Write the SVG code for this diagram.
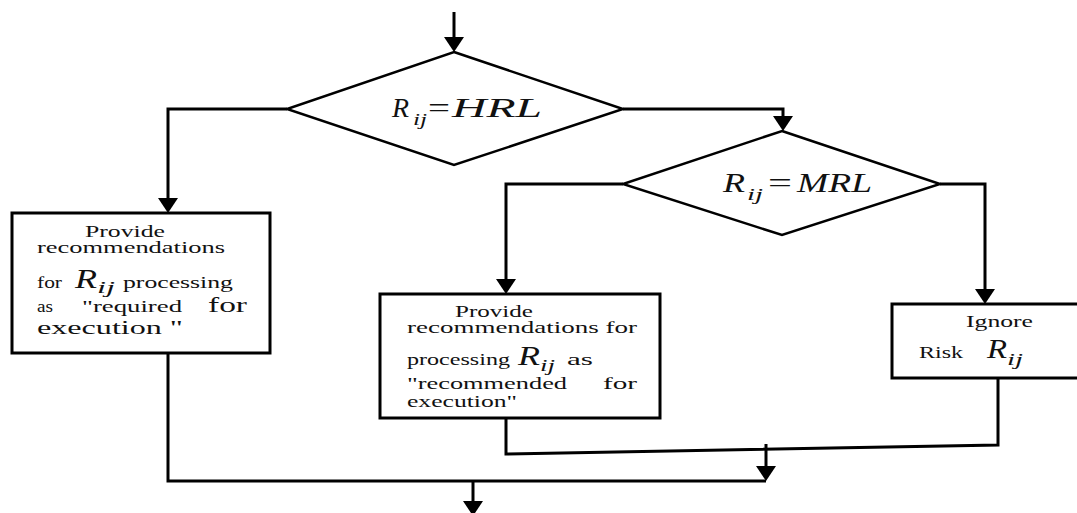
<svg xmlns="http://www.w3.org/2000/svg" width="1077" height="513" viewBox="0 0 1077 513">
<style>
.shape{fill:#ffffff;stroke:#000000;stroke-width:3}
.dia{fill:#ffffff;stroke:#000000;stroke-width:2.5}
.conn{fill:none;stroke:#000000;stroke-width:3}
text{font-family:"Liberation Serif","Times New Roman",serif;fill:#111111}
.t{font-size:16px}
.t17{font-size:17px}
.big{font-size:20px}
.ex{font-size:19px}
.it{font-style:italic;font-size:28px}
.sub{font-style:italic;font-size:16px}
.eq{font-size:27px}
.eqi{font-size:27px;font-style:italic}
</style>
<defs>
<marker id="arr" viewBox="0 0 15 20" refX="7" refY="10" markerWidth="15" markerHeight="20" markerUnits="userSpaceOnUse" orient="auto">
<path d="M0,0 L15,10 L0,20 z" fill="#000000"/>
</marker>
</defs>
<rect width="1077" height="513" fill="#ffffff"/>

<g id="connectors">
<path class="conn" d="M454,12 L454,44" marker-end="url(#arr)"/>
<path class="conn" d="M287,109 L168,109 L168,205" marker-end="url(#arr)"/>
<path class="conn" d="M623,109 L783,109 L783,123" marker-end="url(#arr)"/>
<path class="conn" d="M623,184 L506,184 L506,286" marker-end="url(#arr)"/>
<path class="conn" d="M940,184 L985,184 L985,296" marker-end="url(#arr)"/>
<path class="conn" d="M168,353 L168,481 L766,481"/>
<path class="conn" d="M506,418 L506,454 L998,445 L998,378"/>
<path class="conn" d="M766,444 L766,473" marker-end="url(#arr)"/>
<path class="conn" d="M473,481 L473,508" marker-end="url(#arr)"/>
</g>

<g id="decision-hrl">
<polygon class="dia" points="454,52 623,109 454,165 287,109"/>
<text class="eqi" x="392" y="117" textLength="17" lengthAdjust="spacingAndGlyphs">R</text>
<text class="sub" x="413" y="125" textLength="14" lengthAdjust="spacingAndGlyphs">ij</text>
<text class="eq" x="428" y="117" textLength="22" lengthAdjust="spacingAndGlyphs">=</text>
<text class="eqi" x="452" y="117" textLength="90" lengthAdjust="spacingAndGlyphs">HRL</text>
</g>

<g id="decision-mrl">
<polygon class="dia" points="782,131 940,184 782,235 623,184"/>
<text class="eqi" x="723" y="192" textLength="22" lengthAdjust="spacingAndGlyphs">R</text>
<text class="sub" x="747" y="200" textLength="16" lengthAdjust="spacingAndGlyphs">ij</text>
<text class="eq" x="768" y="192" textLength="24" lengthAdjust="spacingAndGlyphs">=</text>
<text class="eqi" x="797" y="192" textLength="75" lengthAdjust="spacingAndGlyphs">MRL</text>
</g>

<g id="box-required">
<rect class="shape" x="12" y="213" width="258" height="140"/>
<text class="t" x="85" y="237" textLength="80" lengthAdjust="spacingAndGlyphs">Provide</text>
<text class="t" x="37" y="253" textLength="188" lengthAdjust="spacingAndGlyphs">recommendations</text>
<text class="t17" x="37" y="288" textLength="25" lengthAdjust="spacingAndGlyphs">for</text>
<text class="it" x="75" y="288" textLength="22" lengthAdjust="spacingAndGlyphs">R</text>
<text class="sub" x="97" y="293" textLength="18" lengthAdjust="spacingAndGlyphs">ij</text>
<text class="t17" x="123" y="288" textLength="110" lengthAdjust="spacingAndGlyphs">processing</text>
<text class="t" x="37" y="312" textLength="16" lengthAdjust="spacingAndGlyphs">as</text>
<text class="t17" x="82" y="312" textLength="100" lengthAdjust="spacingAndGlyphs">"required</text>
<text class="big" x="208" y="312" textLength="39" lengthAdjust="spacingAndGlyphs">for</text>
<text class="ex" x="37" y="334" textLength="146" lengthAdjust="spacingAndGlyphs">execution "</text>
</g>

<g id="box-recommended">
<rect class="shape" x="380" y="294" width="280" height="124"/>
<text class="t" x="455" y="317" textLength="78" lengthAdjust="spacingAndGlyphs">Provide</text>
<text class="t" x="407" y="333" textLength="230" lengthAdjust="spacingAndGlyphs">recommendations for</text>
<text class="t17" x="407" y="365" textLength="103" lengthAdjust="spacingAndGlyphs">processing</text>
<text class="it" x="518" y="365" textLength="22" lengthAdjust="spacingAndGlyphs">R</text>
<text class="sub" x="540" y="371" textLength="15" lengthAdjust="spacingAndGlyphs">ij</text>
<text class="t17" x="567" y="365" textLength="26" lengthAdjust="spacingAndGlyphs">as</text>
<text class="t" x="407" y="389" textLength="160" lengthAdjust="spacingAndGlyphs">"recommended</text>
<text class="t" x="603" y="389" textLength="34" lengthAdjust="spacingAndGlyphs">for</text>
<text class="t" x="407" y="407" textLength="110" lengthAdjust="spacingAndGlyphs">execution"</text>
</g>

<g id="box-ignore">
<rect class="shape" x="892" y="304" width="190" height="74"/>
<text class="t17" x="966" y="327" textLength="67" lengthAdjust="spacingAndGlyphs">Ignore</text>
<text class="t17" x="919" y="358" textLength="44" lengthAdjust="spacingAndGlyphs">Risk</text>
<text class="it" x="987" y="358" textLength="20" lengthAdjust="spacingAndGlyphs">R</text>
<text class="sub" x="1007" y="365" textLength="16" lengthAdjust="spacingAndGlyphs">ij</text>
</g>
</svg>
